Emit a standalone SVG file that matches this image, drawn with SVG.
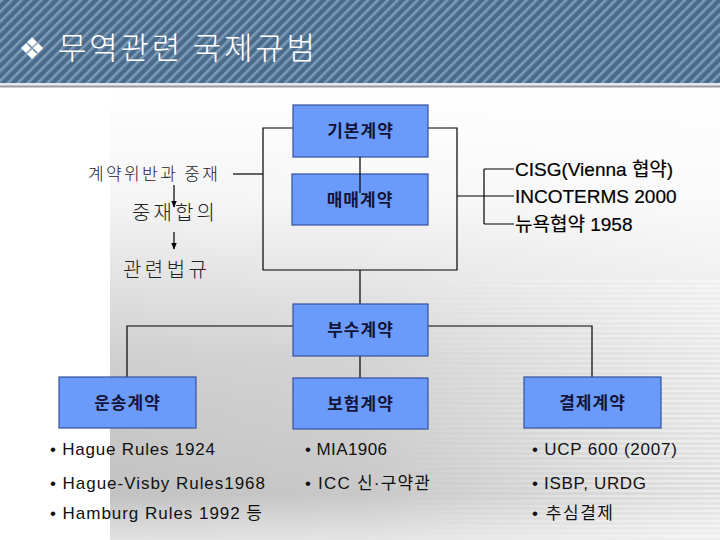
<svg xmlns="http://www.w3.org/2000/svg" width="720" height="540" viewBox="0 0 720 540">
<defs>
<pattern id="diag" width="7" height="7" patternUnits="userSpaceOnUse" patternTransform="rotate(45)">
<rect width="7" height="7" fill="#4b6b8b"/>
<rect width="2.6" height="7" fill="#7d9bb8"/>
</pattern>
<linearGradient id="bgv" x1="0" y1="0" x2="0" y2="1">
<stop offset="0" stop-color="#ffffff"/>
<stop offset="0.25" stop-color="#f5f5f5"/>
<stop offset="0.6" stop-color="#cfcfcf"/>
<stop offset="0.9" stop-color="#c2c2c2"/>
<stop offset="1" stop-color="#e2e2e2"/>
</linearGradient>
<linearGradient id="bgh" x1="0" y1="0" x2="1" y2="0">
<stop offset="0" stop-color="#ffffff" stop-opacity="0"/>
<stop offset="0.4" stop-color="#ffffff" stop-opacity="0.1"/>
<stop offset="1" stop-color="#ffffff" stop-opacity="0.5"/>
</linearGradient>
<linearGradient id="fadeh" x1="0" y1="0" x2="1" y2="0">
<stop offset="0" stop-color="#000"/>
<stop offset="1" stop-color="#fff"/>
</linearGradient>
<mask id="mfade" maskContentUnits="userSpaceOnUse">
<rect x="380" y="280" width="340" height="260" fill="url(#fadeh)"/>
</mask>
<pattern id="hlines" width="8" height="5" patternUnits="userSpaceOnUse">
<rect width="8" height="2" fill="#ffffff" fill-opacity="0.45"/>
</pattern>
<marker id="arr" viewBox="0 0 10 10" refX="9" refY="5" markerWidth="6" markerHeight="6" orient="auto">
<path d="M0,1 L10,5 L0,9 z" fill="#000"/>
</marker>
<style>
.box{fill:#6b9bfa;stroke:#34509e;stroke-width:1.2}
.lbl{font-family:"Noto Sans CJK KR","Liberation Sans",sans-serif;font-weight:bold;font-size:17px;fill:#14143a;text-anchor:middle;letter-spacing:1px}
.ln{fill:none;stroke:#000;stroke-width:1.2}
.kr{font-family:"Noto Sans CJK KR",sans-serif;fill:#222;font-weight:300}
.ref{font-family:"Liberation Sans","Noto Sans CJK KR",sans-serif;font-size:19px;fill:#000;stroke:#000;stroke-width:0.2}
.bul{font-family:"Liberation Sans","Noto Sans CJK KR",sans-serif;font-size:17px;fill:#111}
</style>
</defs>
<rect width="720" height="540" fill="#ffffff"/>
<rect x="110" y="88" width="610" height="452" fill="url(#bgv)"/>
<rect x="110" y="88" width="610" height="452" fill="url(#bgh)"/>
<rect x="380" y="280" width="340" height="260" fill="url(#hlines)" mask="url(#mfade)"/>
<g id="header">
<rect x="0" y="0" width="720" height="83" fill="url(#diag)"/>
<rect x="0" y="83" width="720" height="2.5" fill="#e4e8ee"/>
<rect x="0" y="85.5" width="720" height="2" fill="#9a9a9a"/>
<text x="32" y="59" font-family="DejaVu Sans,sans-serif" font-size="30" fill="#fff" text-anchor="middle">❖</text>
<text x="58" y="59" font-family="Noto Sans CJK KR,sans-serif" font-size="31" font-weight="300" fill="#fff" textLength="257" lengthAdjust="spacing">무역관련 국제규범</text>
</g>
<g id="connectors">
<path class="ln" d="M293,128 H263 V270 H457 V128 H428"/>
<path class="ln" d="M233,174 H263"/>
<path class="ln" d="M457,196 H514 M484,169 V224 M484,169 H514 M484,224 H514"/>
<path class="ln" d="M360,270 V304"/>
<path class="ln" d="M293,326 H127 V377"/>
<path class="ln" d="M428,326 H592 V377"/>
<path class="ln" d="M360,356 V378"/>
<path class="ln" d="M174,185 V207" marker-end="url(#arr)"/>
<path class="ln" d="M174,232 V249" marker-end="url(#arr)"/>
</g>
<g id="n-basic">
<rect class="box" x="293" y="105" width="135" height="52"/>
<text class="lbl" x="360.5" y="137">기본계약</text>
</g>
<g id="n-sale">
<rect class="box" x="292" y="174" width="136" height="51"/>
<text class="lbl" x="360" y="206">매매계약</text>
</g>
<path class="ln" d="M360,157 V193"/>
<g id="n-breach">
<text class="kr" x="88" y="180" font-size="17" textLength="130" lengthAdjust="spacing">계약위반과 중재</text>
</g>
<g id="n-arb">
<text class="kr" x="132" y="220" font-size="20" textLength="83" lengthAdjust="spacing">중재합의</text>
</g>
<g id="n-law">
<text class="kr" x="123" y="277" font-size="20" textLength="84" lengthAdjust="spacing">관련법규</text>
</g>
<g id="n-refs">
<text class="ref" x="515" y="176">CISG(Vienna 협약)</text>
<text class="ref" x="515" y="203">INCOTERMS 2000</text>
<text class="ref" x="515" y="231">뉴욕협약 1958</text>
</g>
<g id="n-aux">
<rect class="box" x="293" y="304" width="135" height="52"/>
<text class="lbl" x="360.5" y="336">부수계약</text>
</g>
<g id="n-transport">
<rect class="box" x="59" y="377" width="137" height="51"/>
<text class="lbl" x="127.5" y="409">운송계약</text>
<text class="bul" x="50" y="455" textLength="165" lengthAdjust="spacing">• Hague Rules 1924</text>
<text class="bul" x="50" y="489" textLength="215" lengthAdjust="spacing">• Hague-Visby Rules1968</text>
<text class="bul" x="50" y="519" textLength="212" lengthAdjust="spacing">• Hamburg Rules 1992 등</text>
</g>
<g id="n-insurance">
<rect class="box" x="293" y="378" width="135" height="51"/>
<text class="lbl" x="360.5" y="410">보험계약</text>
<text class="bul" x="305" y="455" textLength="82" lengthAdjust="spacing">• MIA1906</text>
<text class="bul" x="305" y="489" textLength="125" lengthAdjust="spacing">• ICC 신·구약관</text>
</g>
<g id="n-payment">
<rect class="box" x="524" y="377" width="137" height="51"/>
<text class="lbl" x="592.5" y="409">결제계약</text>
<text class="bul" x="532" y="455" textLength="145" lengthAdjust="spacing">• UCP 600 (2007)</text>
<text class="bul" x="532" y="489" textLength="114" lengthAdjust="spacing">• ISBP, URDG</text>
<text class="bul" x="532" y="519" textLength="81" lengthAdjust="spacing">• 추심결제</text>
</g>
</svg>
